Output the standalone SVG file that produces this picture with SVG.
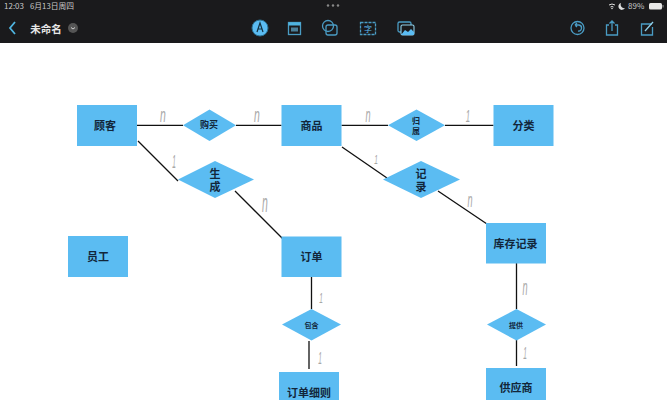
<svg xmlns="http://www.w3.org/2000/svg" width="667" height="400" viewBox="0 0 667 400">
<style>
text{font-family:"Liberation Sans","Noto Sans CJK SC",sans-serif;text-anchor:middle}
.ent{fill:#5bbcf2}
.lb{font-size:11px;font-weight:700;fill:#12263a;font-family:"Noto Sans CJK SC",sans-serif}
.lb2{font-size:9px;font-weight:700;fill:#12263a;font-family:"Noto Sans CJK SC",sans-serif}
.lb2s{font-size:8px;font-weight:700;fill:#12263a;font-family:"Noto Sans CJK SC",sans-serif}
.lb3{font-size:7px;font-weight:700;fill:#12263a;font-family:"Noto Sans CJK SC",sans-serif}
.c{stroke:#111;stroke-width:1.3;fill:none}
.hw{font-size:13px;fill:#a8a8a8;font-weight:400;font-style:italic}
.st{font-size:8px;fill:#c8c8c8;font-family:"Noto Sans CJK SC",sans-serif;text-anchor:start}
.ic{fill:none;stroke:#4a9cc4;stroke-width:1.3}
</style>
<rect width="667" height="400" fill="#fff"/>
<g id="toolbar">
<rect width="667" height="43" fill="#1a1a1c"/>
<text class="st" x="4" y="9">12:03</text>
<text class="st" x="30" y="9" textLength="44" lengthAdjust="spacingAndGlyphs">6月13日周四</text>
<path d="M15 22 L10 28 L15 34" fill="none" stroke="#4fb4e0" stroke-width="1.8"/>
<text x="46" y="32.500" style="font-size:10.500px;font-weight:700;fill:#e6e6e6;font-family:'Noto Sans CJK SC',sans-serif">未命名</text>
<circle cx="73" cy="28" r="5" fill="#555"/>
<path d="M71 27.500 L73 29 L75 27.500" fill="none" stroke="#ddd" stroke-width="0.9"/>
<circle cx="260" cy="28" r="8" fill="#5bbcf2" stroke="#2a6f90" stroke-width="1"/>
<path d="M257 32 L260 23 L263 32 M258 29 H262" fill="none" stroke="#12303f" stroke-width="1.2"/>
<rect x="288.500" y="22.500" width="12" height="12" class="ic"/>
<rect x="288.500" y="22.500" width="12" height="3" fill="#4fb4e0"/>
<rect x="291" y="27.500" width="7" height="4" fill="#4a7f98"/>
<circle cx="328" cy="26" r="5.500" class="ic"/>
<rect x="326" y="25" width="11" height="10" rx="2" class="ic"/>
<rect x="360.500" y="22.500" width="15" height="12" class="ic" stroke-dasharray="3 1"/>
<text x="368" y="32" style="font-size:8px;fill:#5bbcf2;font-family:'Noto Sans CJK SC',sans-serif">字</text>
<rect x="398" y="22" width="13" height="10" rx="1.500" class="ic"/>
<rect x="401" y="25" width="13" height="10" rx="1.500" fill="#1a1a1c" stroke="#8fd0ea" stroke-width="1.100"/>
<path d="M401 35 L405 30 L408 32 L411 29 L414 32 V35 Z" fill="#5bbcf2"/>
<circle cx="577.500" cy="28" r="6.500" class="ic"/>
<path d="M575 25 H579 A3 3 0 0 1 578 31 M575 25 L577 23 M575 25 L577 27" class="ic" stroke-width="1"/>
<path d="M609 25 H606.500 V35 H617.500 V25 H615 M612 31 V21 M609.500 23.500 L612 21 L614.500 23.500" class="ic"/>
<path d="M652 24 H641.500 V35 H652.500 V27" class="ic"/>
<path d="M645 31 L653 22" stroke="#8fd0ea" stroke-width="1.300"/>
<circle cx="328" cy="5.500" r="1.200" fill="#888"/><circle cx="333" cy="5.500" r="1.200" fill="#888"/><circle cx="338" cy="5.500" r="1.200" fill="#888"/>
<path d="M609 5 Q612 3 615 5 M610.500 7 Q612 6 613.500 7" fill="none" stroke="#ddd" stroke-width="1"/>
<circle cx="612" cy="8.500" r="0.800" fill="#ddd"/>
<path d="M621 3 A3.500 3.500 0 1 0 625 8 A3.500 3.500 0 0 1 621 3 Z" fill="#ddd"/>
<text class="st" x="628" y="9">89%</text>
<rect x="649" y="3" width="13" height="6.500" rx="1.500" fill="#e8e8e8"/>
<rect x="662.500" y="5" width="1" height="2.500" fill="#999"/>
</g>
<g id="connectors">
<path class="c" d="M137 125.300H183M236 125.300H281.500M341.500 125.300H388M445 125.300H493.500"/>
<path class="c" d="M138 141L178 181M235 191L283 239M342 147L387 178M438 191L487 224"/>
<path class="c" d="M311.500 277V309M309 341V369M516.500 263V309M516.500 340V366" stroke-width="1.500"/>
</g>
<g id="marks">
<text class="hw" transform="translate(163 122) scale(.8 1.6)">n</text>
<text class="hw" transform="translate(257 122) scale(.8 1.6)">n</text>
<text class="hw" transform="translate(368 122) scale(.7 1.6)">n</text>
<text class="hw" transform="translate(468 122) scale(.6 1.3)">1</text>
<text class="hw" transform="translate(174 168) scale(.5 1.4)">1</text>
<text class="hw" transform="translate(265 212) scale(.8 2)">n</text>
<text class="hw" transform="translate(376 164) scale(.5 1)">1</text>
<text class="hw" transform="translate(470 207) scale(.7 1.5)">n</text>
<text class="hw" transform="translate(321 303) scale(.5 1.1)">1</text>
<text class="hw" transform="translate(320 364) scale(.5 1.2)">1</text>
<text class="hw" transform="translate(525 295) scale(.7 1.7)">n</text>
<text class="hw" transform="translate(525 359) scale(.5 1.2)">1</text>
</g>
<g id="guke"><rect class="ent" x="77" y="105" width="60" height="41"/><text class="lb" x="105" y="129.500">顾客</text></g>
<g id="shangpin"><rect class="ent" x="281.500" y="105" width="60" height="41"/><text class="lb" x="311.500" y="129.500">商品</text></g>
<g id="fenlei"><rect class="ent" x="493.500" y="105" width="60" height="41"/><text class="lb" x="523.500" y="129.500">分类</text></g>
<g id="yuangong"><rect class="ent" x="68" y="236" width="60" height="41"/><text class="lb" x="98" y="261">员工</text></g>
<g id="dingdan"><rect class="ent" x="281.500" y="236.500" width="60" height="40.500"/><text class="lb" x="311.500" y="261">订单</text></g>
<g id="kucun"><rect class="ent" x="486" y="223" width="60" height="40.500"/><text class="lb" x="515.500" y="248">库存记录</text></g>
<g id="xize"><rect class="ent" x="279" y="372" width="60" height="40"/><text class="lb" x="309" y="397">订单细则</text></g>
<g id="gongying"><rect class="ent" x="486" y="368" width="60" height="40"/><text class="lb" x="516" y="392">供应商</text></g>
<g id="goumai"><path class="ent" d="M183 125.300L209.500 109.500L236 125.300L209.500 141Z"/><text class="lb2" x="209" y="127.500">购买</text></g>
<g id="guishu"><path class="ent" d="M388 125.300L416.500 109.500L445 125.300L416.500 141Z"/><text class="lb2s" x="416"><tspan x="416" y="124">归</tspan><tspan x="416" y="134">属</tspan></text></g>
<g id="shengcheng"><path class="ent" d="M178 179.500L215 161L254 179.500L215 198Z"/><text class="lb" x="215"><tspan x="215" y="177.500">生</tspan><tspan x="215" y="190.500">成</tspan></text></g>
<g id="jilu"><path class="ent" d="M383 179.500L421 161L460 179.500L421 198Z"/><text class="lb" x="421"><tspan x="421" y="177.500">记</tspan><tspan x="421" y="190.500">录</tspan></text></g>
<g id="baohan"><path class="ent" d="M282 324.500L311.500 309L341 324.500L311.500 340.500Z"/><text class="lb3" x="311.500" y="327.500">包含</text></g>
<g id="tigong"><path class="ent" d="M487 324.500L516.500 309L546 324.500L516.500 340.500Z"/><text class="lb3" x="516" y="327.500">提供</text></g>
</svg>
